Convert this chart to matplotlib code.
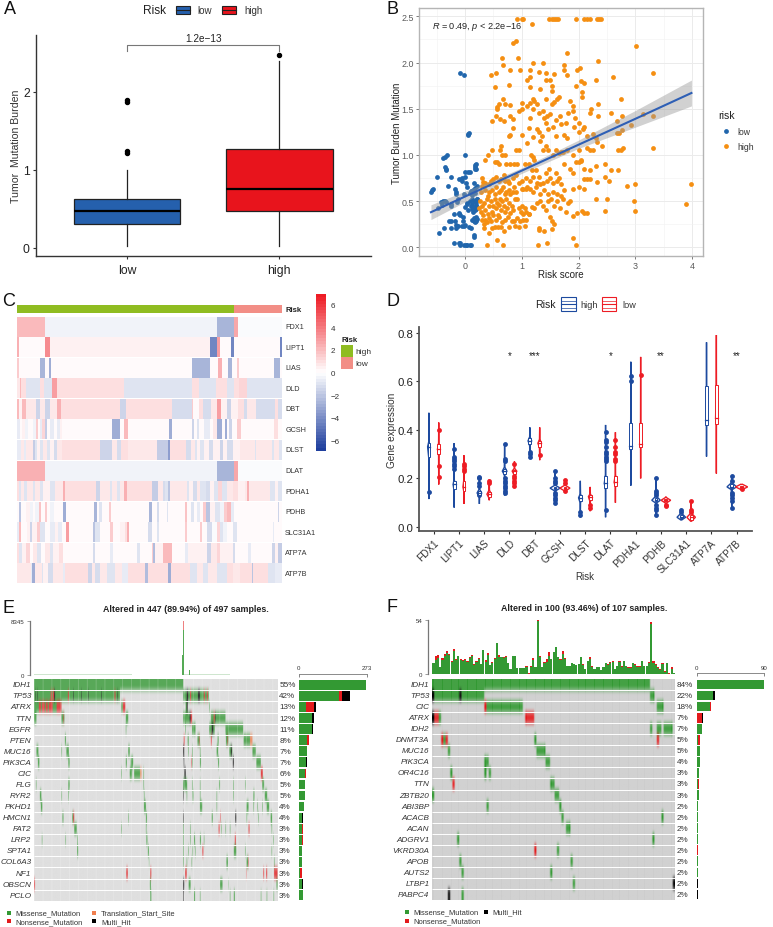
import numpy as np
import matplotlib
matplotlib.use('Agg')
import matplotlib.pyplot as plt
from matplotlib.colors import LinearSegmentedColormap, Normalize, to_rgb
from matplotlib.patches import Rectangle, Polygon

plt.rcParams['font.family'] = ['Liberation Sans', 'DejaVu Sans']
plt.rcParams['mathtext.fontset'] = 'custom'
plt.rcParams['mathtext.it'] = 'Liberation Sans:italic'
plt.rcParams['mathtext.rm'] = 'Liberation Sans'

W, H = 773, 928

# ---- A: boxplot
a_labels = ['low', 'high']
a_q1 = [0.31, 0.474]
a_med = [0.474, 0.76]
a_q3 = [0.628, 1.265]
a_whislo = [0.02, 0.02]
a_whishi = [1.0, 2.4]
a_fliers = [[1.22, 1.24, 1.87, 1.9], [2.47]]
a_colors = ['#2560ad', '#e8141c']

# ---- B: scatter
low_points = [(-.6,.6),(-.58,.62),(-.57,.63),(-.5,.76),(-.47,.42),(-.45,.16),(-.42,.49),(-.4,.46),(-.38,.5),(-.37,.21),
 (-.35,.5),(-.33,.49),(-.38,.97),(-.36,.98),(-.31,1.0),(-.36,.87),(-.34,.85),(-.33,.84),(-.3,.66),(-.28,.29),(-.25,.29),
 (-.25,.45),(-.24,.47),(-.24,.76),(-.24,.21),(-.2,.05),(-.2,.36),(-.18,.29),(-.17,.63),(-.16,.6),(-.16,.58),(-.16,.24),
 (-.15,.21),(-.14,.49),(-.13,.52),(-.12,.23),(-.11,.36),(-.1,.37),(-.1,.05),(-.1,.74),(-.09,.35),(-.09,.03),(-.08,.05),
 (-.06,.75),(-.05,.72),(-.05,.23),(-.04,.33),(-.03,.29),(-.02,.03),(-.02,.58),(-.01,.23),(0,1.0),(0,.82),(0,.76),(0,.44),
 (0,.24),(.01,.03),(.02,.7),(.03,.03),(.03,.65),(.04,.48),(.04,.47),(.05,1.21),(.06,1.23),(.07,1.24),(.06,.82),(.06,.4),
 (.07,.22),(.08,.03),(.08,.5),(.09,.82),(.09,.59),(.1,.03),(.1,.45),(.1,.21),(.11,.61),(.12,.57),(.12,.41),(.12,.47),
 (.13,.52),(.14,.62),(.15,.7),(.15,.43),(.15,.32),(.15,.28),(.15,.13),(.16,.11),(.16,.5),(.17,.59),(.17,.44),(.17,.87),
 (.18,.85),(.18,.89),(.18,.64),(.18,.4),(.19,.33),(.19,.28),(.2,.9),(.2,.85),(.2,.46),(.2,.49),(.21,.52),(.21,.44),
 (.22,.31),(.22,.66),(.19,.43),(.16,.4),(.13,.3),(-.09,1.89),(-.01,1.86),(.18,.27),(.22,.52),(.14,.38),(.2,.41)]
high_points = [(.92,2.47),(1.0,2.47),(1.02,2.47),(1.48,2.47),(1.53,2.47),(1.57,2.47),(1.6,2.47),(1.63,2.47),(1.95,2.47),
 (2.1,2.47),(2.15,2.47),(2.2,2.47),(2.33,2.47),(2.37,2.47),(2.4,2.47),(1.18,2.42),(.9,2.23),(.85,2.21),(3.02,2.18),
 (1.8,2.1),(.66,2.05),(.93,2.05),(2.35,2.02),(1.37,2.0),(1.2,2.0),(.67,1.97),(1.75,1.97),(1.97,1.92),(2.03,1.94),
 (1.75,1.92),(.8,1.92),(.97,1.92),(1.15,1.92),(1.3,1.9),(1.42,1.89),(.54,1.89),(3.32,1.89),(1.57,1.88),(.45,1.87),
 (1.8,1.87),(2.6,1.84),(1.15,1.84),(1.1,1.81),(2.3,1.81),(1.43,1.81),(1.5,1.81),(2.05,1.8),(2.1,1.78),(1.53,1.75),
 (.77,1.76),(.52,1.73),(1.15,1.74),(1.32,1.71),(1.95,1.75),(2.07,1.68),(1.54,1.69),(2.07,1.63),(1.65,1.63),(1.62,1.6),
 (.67,1.6),(1.2,1.6),(1.22,1.58),(1.43,1.6),(1.85,1.58),(2.75,1.6),(.57,1.52),(.6,1.55),(.57,1.5),(.7,1.55),(.8,1.54),
 (1.0,1.56),(1.1,1.53),(1.15,1.56),(1.27,1.55),(1.53,1.55),(1.57,1.57),(1.9,1.53),(2.35,1.55),(.55,1.42),(.47,1.37),
 (.62,1.39),(.69,1.37),(.8,1.42),(.84,1.39),(.95,1.47),(1.0,1.5),(1.15,1.4),(1.2,1.5),(1.3,1.45),(1.37,1.48),(1.4,1.4),
 (1.45,1.42),(1.5,1.44),(1.6,1.38),(1.68,1.42),(1.78,1.35),(1.82,1.45),(1.9,1.48),(1.93,1.4),(2.0,1.35),(2.2,1.45),
 (2.22,1.5),(2.34,1.42),(2.58,1.45),(2.68,1.37),(2.76,1.42),(3.14,1.44),(3.32,1.42),(.85,1.29),(.8,1.22),(.78,1.2),
 (1.0,1.21),(1.13,1.29),(1.2,1.19),(1.27,1.28),(1.3,1.25),(1.35,1.2),(1.42,1.35),(1.47,1.28),(1.55,1.3),(1.6,1.2),
 (1.7,1.33),(1.75,1.22),(1.8,1.18),(1.92,1.3),(2.0,1.25),(2.08,1.28),(2.1,1.3),(2.15,1.2),(2.25,1.23),(2.3,1.18),
 (2.33,1.14),(2.68,1.24),(2.72,1.24),(2.77,1.27),(2.93,1.32),(.63,1.1),(.62,1.05),(.47,1.05),(.66,1.0),(.4,1.0),
 (.7,1.0),(.9,1.05),(.95,1.05),(1.1,1.13),(1.17,1.0),(1.19,.98),(1.22,.95),(1.33,1.15),(1.38,1.05),(1.42,1.1),(1.47,1.05),
 (1.55,1.0),(1.6,1.05),(1.65,1.02),(1.7,1.03),(1.73,1.03),(1.8,1.05),(1.9,1.0),(2.0,1.05),(2.05,.95),(2.15,1.08),(2.2,1.05),
 (2.25,1.05),(2.42,1.1),(2.7,1.05),(2.75,1.05),(2.78,1.08),(3.32,1.08),(.35,.95),(.52,.92),(.57,.92),(.6,.9),(.72,.9),
 (.8,.9),(.87,.9),(.92,.9),(1.05,.9),(1.12,.9),(1.18,.84),(1.25,.84),(1.3,.76),(1.42,.8),(1.48,.85),(1.6,.8),(1.65,.75),
 (1.75,.9),(1.85,.85),(1.9,.8),(1.95,.92),(2.0,.92),(2.05,.93),(2.1,.85),(2.2,.84),(2.3,.88),(2.47,.9),(2.58,.84),(2.7,.84),
 (2.1,.74),(2.15,.74),(2.2,.74),(2.32,.71),(2.47,.76),(2.53,.72),(2.85,.66),(3.0,.68),(3.99,.68),(2.0,.65),(1.9,.63),
 (2.1,.63),(2.31,.52),(2.5,.52),(2.97,.5),(3.89,.47),(2.47,.39),(3.0,.39),(.3,.75),(.32,.71),(.35,.7),(.42,.68),(.45,.72),
 (.5,.74),(.55,.76),(.6,.72),(.63,.74),(.68,.78),(.7,.72),(.75,.72),(.78,.7),(.85,.75),(.9,.78),(.95,.7),(1.0,.72),(1.08,.75),
 (1.15,.72),(1.2,.76),(1.27,.7),(1.32,.68),(1.38,.7),(1.45,.72),(1.5,.75),(1.55,.7),(1.62,.72),(1.7,.68),(.28,.6),(.3,.66),
 (.35,.62),(.4,.55),(.43,.6),(.48,.62),(.52,.58),(.55,.65),(.6,.6),(.63,.62),(.67,.65),(.7,.58),(.73,.6),(.77,.62),(.8,.58),
 (.84,.6),(.87,.65),(.9,.6),(1.0,.63),(1.03,.63),(1.07,.63),(1.1,.65),(1.15,.63),(1.2,.6),(1.25,.65),(1.33,.58),(1.4,.62),
 (1.47,.58),(1.55,.6),(1.62,.58),(1.7,.55),(1.75,.62),(1.85,.5),(.25,.42),(.27,.5),(.28,.38),(.3,.45),(.32,.35),(.34,.48),
 (.36,.4),(.38,.52),(.4,.36),(.42,.45),(.45,.5),(.47,.38),(.5,.45),(.52,.52),(.54,.42),(.56,.48),(.58,.35),(.6,.46),(.62,.52),
 (.64,.4),(.66,.5),(.68,.45),(.7,.38),(.72,.52),(.74,.42),(.77,.48),(.8,.37),(.83,.45),(.85,.4),(.88,.52),(.92,.52),(.95,.42),
 (.98,.38),(1.0,.45),(1.02,.36),(1.05,.42),(1.08,.38),(1.12,.36),(1.18,.44),(1.22,.42),(1.27,.48),(1.33,.5),(1.38,.45),
 (1.42,.4),(1.47,.5),(1.52,.52),(1.57,.45),(1.62,.5),(1.67,.42),(1.72,.52),(1.78,.38),(1.82,.48),(.3,.3),(.33,.25),(.35,.3),
 (.38,.27),(.42,.32),(.46,.28),(.5,.35),(.55,.3),(.6,.33),(.65,.27),(.7,.3),(.75,.33),(.82,.29),(.87,.29),(.92,.32),(.97,.28),
 (1.03,.3),(1.07,.3),(1.13,.36),(1.5,.33),(1.53,.29),(1.57,.25),(1.9,.34),(1.97,.37),(2.07,.39),(2.1,.37),(2.15,.37),(.33,.21),
 (.42,.16),(.47,.21),(.52,.22),(.58,.22),(.63,.22),(.68,.18),(.78,.22),(.88,.23),(.95,.22),(1.05,.23),(1.3,.19),(1.31,.21),
 (1.4,.18),(1.54,.2),(.38,.03),(.57,.08),(.67,.03),(1.28,.03),(1.44,.05),(1.91,.1),(1.96,.03)]
b_fit_x = [-0.6, 0.5, 1.0, 2.0, 3.0, 3.99]
b_fit_y = [0.38, 0.69, 0.83, 1.11, 1.39, 1.67]
b_band_lo = [0.30, 0.65, 0.80, 1.07, 1.30, 1.53]
b_band_hi = [0.46, 0.73, 0.86, 1.16, 1.48, 1.81]

# ---- C: heatmap, each row = (end of segment, value), x axis runs 52..846
c_genes = ['FDX1', 'LIPT1', 'LIAS', 'DLD', 'DBT', 'GCSH', 'DLST', 'DLAT', 'PDHA1', 'PDHB', 'SLC31A1', 'ATP7A', 'ATP7B']
fdx1 = [(135,2.2),(650,-.3),(703,-2.6),(713,2.6),(846,-.25)]
lipt1 = [(58,2.5),(135,.15),(151,3.5),(630,.3),(650,-4.2),(660,3),(694,.1),(703,-4.2),(840,.2),(846,-4.2)]
lias = [(58,1.5),(120,.2),(135,-2.6),(148,.1),(154,-3),(575,.15),(630,-2.6),(655,.1),(665,2.5),(685,.1),(695,-2.6),(712,.2),(716,1.5),(822,.2),(840,-2.6),(846,.2)]
dld = [(60,.8),(64,2),(78,1),(120,-1),(133,.9),(155,-.9),(172,3),(372,1.1),(575,-.9),(597,1),(647,-.9),(680,1.1),(703,-.9),(718,1),(742,1.3),(846,-1)]
dbt = [(56,2),(66,.3),(78,2),(108,.8),(120,-1.6),(135,.7),(150,-1.6),(170,.6),(183,2.5),(360,1),(378,-1.5),(517,.9),(575,-1.2),(580,1.5),(597,.2),(608,1),(632,-1.3),(650,.6),(663,3),(680,.3),(694,-1.4),(715,.5),(731,1),(742,-1.2),(767,.6),(825,-1.2),(835,.9),(846,-1.2)]
gcsh = [(60,-.8),(66,.1),(76,.3),(84,-.5),(100,.1),(108,-.5),(114,1.6),(120,.1),(125,-.6),(135,1.2),(140,-1.7),(150,.1),(162,-.8),(170,.1),(180,-.8),(186,.3),(335,.1),(360,-2.8),(372,.1),(383,2),(508,.1),(517,-3),(575,.1),(582,-1.4),(590,.2),(597,-1),(612,.1),(630,-.7),(640,.2),(652,.8),(665,-3),(675,.1),(680,-3),(686,.1),(695,-1.6),(712,.1),(722,1.6),(822,.1),(833,1),(846,.1)]
dlst = [(62,-.8),(72,.6),(78,-.8),(98,.7),(104,-1.8),(112,-1),(120,.5),(130,-1),(140,.7),(150,-1),(162,.5),(172,-1.2),(187,.6),(300,1),(336,-1.6),(352,.8),(362,-1.2),(385,1),(472,.8),(505,-1.8),(510,-3.5),(558,.9),(572,-1.3),(584,.6),(592,-1),(600,.5),(612,-1),(628,.5),(640,-1.2),(660,.5),(668,-1.5),(680,.5),(700,-1.2),(720,.4),(740,.6),(765,.8),(768,-1),(815,.8),(822,-1),(838,.6),(846,-1)]
dlat = [(135,2.4),(650,-.3),(703,-2.6),(713,2.6),(846,-.25)]
pdha1 = [(57,.9),(63,-1),(73,.7),(81,-1),(100,.6),(106,-1),(120,.6),(128,-.9),(150,.5),(165,-.9),(190,.7),(195,2.5),(288,1),(300,-1.6),(330,.8),(336,-1),(350,.6),(360,-1),(372,.6),(382,2.5),(455,.9),(475,-1.8),(490,.6),(495,-1.2),(505,-1),(510,-2),(560,.8),(568,-1),(578,.5),(590,-1.2),(600,.6),(618,-1),(630,-1.3),(642,.5),(655,-1),(666,1.2),(680,-1),(700,.8),(715,1.1),(735,.4),(741,.8),(746,2.5),(810,.8),(826,-1),(834,.5),(846,-1)]
pdhb = [(56,.2),(64,-2),(78,.1),(90,.3),(100,-.3),(105,.1),(118,-.4),(124,1.8),(135,.1),(141,1.6),(150,.1),(162,-.4),(170,.1),(190,.2),(198,-3),(282,.15),(290,-2.6),(298,.1),(305,-1),(328,.1),(334,1.5),(448,.1),(456,-2.6),(470,.1),(476,-1.2),(500,.1),(505,-.9),(555,.1),(560,1.7),(572,.1),(582,-1),(592,.1),(600,-.8),(610,.1),(618,1.5),(630,-2),(645,.3),(660,-1),(672,-.3),(682,1.5),(694,2),(703,-.8),(835,.1),(838,-1.5),(846,.1)]
slc31a1 = [(58,-.8),(62,2),(80,.1),(90,.5),(95,-1.5),(110,.3),(120,1.5),(135,-1),(150,.2),(165,-.8),(175,.3),(185,-.8),(197,.2),(207,3),(278,.1),(286,-2.2),(300,-1),(330,.1),(338,1.5),(360,.1),(376,.3),(380,1),(388,2.5),(445,.1),(455,-1.2),(470,.1),(478,-1),(555,.1),(560,1.4),(600,.2),(606,1.5),(620,.1),(635,-1.2),(650,-.2),(660,1.2),(670,-1),(680,-.3),(700,.2),(712,-1),(818,.1),(822,-.7),(846,.1)]
atp7a = [(58,1),(66,-1),(78,.3),(90,1.3),(100,.2),(112,.6),(122,-1),(135,.2),(150,.8),(160,-1),(178,.5),(190,.9),(280,.1),(286,-1.3),(330,.1),(340,-.8),(390,.1),(410,.2),(420,-1),(455,.1),(460,1.5),(465,-2.3),(490,.3),(515,2),(555,.2),(565,-.8),(620,.3),(632,-1.5),(650,.6),(660,1.2),(680,.5),(700,.3),(705,-1.2),(745,.2),(752,-.8),(765,.2),(815,.1),(825,-1.5),(835,.5),(846,-1.7)]
atp7b = [(70,.8),(92,.6),(95,-.8),(105,-3),(125,.7),(130,-1),(145,.4),(160,-1.2),(190,.6),(195,-.8),(265,1.1),(275,-1.4),(285,.8),(300,-1.2),(320,.6),(345,-1),(365,.7),(385,-.8),(435,1),(443,-2.5),(470,.9),(505,1),(512,-3),(570,.9),(590,-.9),(610,.7),(625,-1),(650,.8),(680,-1),(700,.9),(720,.8),(755,1),(760,-2),(805,1.1),(825,-1),(846,-.8)]
c_rows = [fdx1, lipt1, lias, dld, dbt, gcsh, dlst, dlat, pdha1, pdhb, slc31a1, atp7a, atp7b]
c_risk_high = (52, 703)
c_risk_low = (703, 846)

# ---- D: violins
d_genes = c_genes
d_high_lo = [.115,.08,.095,.13,.28,.095,.04,.04,.17,.05,.03,.29,.08]
d_high_hi = [.47,.345,.21,.34,.41,.23,.19,.42,.68,.2,.075,.76,.21]
d_high_q1 = [.29,.155,.13,.22,.34,.155,.105,.16,.32,.105,.035,.42,.16]
d_high_med = [.33,.175,.14,.23,.355,.16,.12,.18,.335,.11,.04,.44,.165]
d_high_q3 = [.345,.19,.15,.24,.365,.165,.13,.21,.43,.12,.05,.58,.175]
d_high_wid = [.05,.04,.09,.09,.07,.2,.07,.05,.04,.17,.17,.03,.19]
d_high_dots = [[.145],[.24,.25,.26,.27,.28,.29,.32],[.13,.14,.17,.18,.2,.205],[.14,.15,.16,.17,.18,.19,.2,.27,.28,.34],
 [.29,.3,.31],[.1,.11,.12,.13,.14,.18,.19,.2,.23],[.05,.06],[.07,.27,.28,.29,.3,.31,.33,.35,.36,.39],[.6,.62],
 [.05,.07,.08,.09,.13,.14,.15,.2],[.06,.07],[],[.08,.105,.12,.13,.14,.19,.21]]
d_low_lo = [.175,.095,.11,.165,.275,.145,.065,.1,.2,.08,.025,.22,.155]
d_low_hi = [.43,.295,.195,.27,.41,.195,.165,.39,.7,.125,.105,.79,.175]
d_low_q1 = [.3,.15,.125,.22,.33,.155,.11,.17,.33,.105,.03,.425,.16]
d_low_med = [.32,.165,.135,.23,.345,.16,.125,.185,.34,.11,.04,.45,.165]
d_low_q3 = [.34,.19,.145,.235,.355,.165,.13,.21,.43,.115,.05,.585,.17]
d_low_wid = [.05,.04,.09,.09,.07,.2,.07,.05,.04,.19,.17,.03,.24]
d_low_dots = [[.205,.25,.4],[.23,.24,.25,.26],[.18,.19],[.17,.18,.19,.2,.21,.26],[.295],[.15,.18,.195],[.08,.09],
 [.27,.28,.3,.31,.33,.36],[.625],[.085,.09],[.06,.07,.105],[],[.155]]
d_stars = {3: '*', 4: '***', 7: '*', 9: '**', 12: '**'}

# ---- E: oncoplot, 497 samples, segments are (start, end, kind)
e_genes = ['IDH1','TP53','ATRX','TTN','EGFR','PTEN','MUC16','PIK3CA','CIC','FLG','RYR2','PKHD1','HMCN1','FAT2','LRP2','SPTA1','COL6A3','NF1','OBSCN','PCLO']
e_pct = [55,42,13,12,11,8,7,7,6,5,5,4,4,3,3,3,3,3,3,3]
e_idh1 = [(0,304,'m')]
e_tp53 = [(0,175,'m'),(3,4,'h'),(7,8,'h'),(34,36,'n'),(38,41,'n'),(41,43,'h'),(69,71,'n'),(80,81,'h'),(96,97,'h'),(110,111,'h'),(137,138,'h'),(164,166,'n'),(170,171,'h'),(304,356,'m'),(311,314,'h'),(318,320,'n'),(334,338,'h'),(346,348,'n'),(352,354,'n')]
e_atrx = [(0,10,'m'),(10,38,'n'),(14,16,'m'),(22,24,'m'),(28,30,'m'),(38,46,'m'),(46,56,'n'),(178,181,'m'),(181,186,'n'),(309,311,'m'),(311,313,'h'),(357,358,'m')]
e_ttn = [(0,5,'m'),(56,62,'m'),(60,61,'n'),(187,192,'m'),(304,317,'m'),(317,319,'h'),(319,322,'n'),(360,390,'m'),(366,368,'n'),(369,370,'h')]
e_egfr = [(187,188,'m'),(308,309,'m'),(322,329,'m'),(357,368,'m'),(362,365,'h'),(390,426,'m')]
e_pten = [(63,65,'m'),(305,307,'n'),(313,315,'m'),(333,338,'m'),(336,337,'n'),(360,362,'n'),(374,376,'m'),(391,396,'m'),(394,395,'n'),(427,440,'m'),(440,445,'t')]
e_muc16 = [(5,9,'m'),(56,57,'m'),(66,71,'m'),(192,195,'m'),(304,306,'h'),(314,315,'m'),(322,323,'m'),(338,339,'m'),(372,375,'m'),(398,404,'m'),(401,403,'h'),(445,452,'m')]
e_pik3ca = [(8,11,'m'),(70,73,'m'),(187,189,'m'),(197,202,'m'),(305,306,'h'),(320,321,'n'),(322,323,'m'),(338,340,'m'),(375,377,'m'),(405,407,'h'),(453,462,'m')]
e_cic = [(178,179,'m'),(195,200,'m'),(204,216,'m'),(216,219,'t'),(223,224,'m'),(306,309,'h'),(462,466,'n')]
e_flg = [(4,5,'m'),(70,73,'m'),(223,224,'m'),(304,312,'m'),(322,323,'m'),(338,339,'m'),(377,379,'m'),(406,407,'m'),(430,431,'m'),(465,469,'m')]
e_ryr2 = [(12,15,'m'),(56,57,'m'),(70,71,'m'),(224,225,'m'),(304,305,'h'),(311,312,'m'),(323,325,'m'),(338,339,'m'),(372,373,'m'),(406,407,'m'),(447,449,'m'),(470,475,'m')]
e_pkhd1 = [(14,17,'m'),(224,228,'m'),(338,343,'m'),(372,373,'m'),(433,437,'m'),(447,448,'m'),(455,456,'m'),(465,466,'m'),(474,479,'m')]
e_hmcn1 = [(58,60,'m'),(78,81,'m'),(80,82,'n'),(192,193,'m'),(228,230,'m'),(304,305,'h'),(362,364,'m'),(379,380,'n'),(410,412,'h'),(433,434,'m'),(457,458,'m'),(482,485,'m')]
e_fat2 = [(82,87,'m'),(178,179,'m'),(228,229,'m'),(304,305,'m'),(318,319,'m'),(376,378,'n'),(381,382,'m'),(390,391,'m'),(399,400,'m'),(437,439,'n'),(484,485,'m')]
e_lrp2 = [(16,17,'m'),(64,65,'m'),(88,89,'m'),(229,231,'m'),(304,305,'m'),(318,319,'m'),(326,328,'m'),(338,340,'m'),(346,347,'m'),(409,411,'n'),(487,488,'m')]
e_spta1 = [(88,90,'m'),(232,234,'m'),(304,305,'m'),(314,315,'m'),(323,324,'m'),(328,329,'m'),(343,345,'n'),(407,412,'m'),(430,431,'m'),(484,485,'m')]
e_col6a3 = [(234,235,'m'),(304,305,'m'),(311,312,'m'),(321,322,'m'),(392,395,'m'),(433,437,'m'),(436,437,'n'),(489,490,'m')]
e_nf1 = [(188,191,'n'),(237,239,'n'),(308,311,'n'),(432,433,'n'),(467,469,'n'),(473,475,'n'),(489,496,'n')]
e_obscn = [(0,2,'n'),(236,238,'m'),(304,306,'h'),(315,319,'m'),(379,384,'m'),(396,397,'m'),(494,496,'m')]
e_pclo = [(237,239,'m'),(304,305,'h'),(326,328,'m'),(338,339,'m'),(399,400,'m'),(407,409,'m'),(462,463,'m'),(474,475,'m'),(488,489,'m')]
e_rows = [e_idh1,e_tp53,e_atrx,e_ttn,e_egfr,e_pten,e_muc16,e_pik3ca,e_cic,e_flg,e_ryr2,e_pkhd1,e_hmcn1,e_fat2,e_lrp2,e_spta1,e_col6a3,e_nf1,e_obscn,e_pclo]
e_right_m = [272,162,29,52,55,32,32,29,27,25,25,20,14,14,14,15,13,4,14,16]
e_right_n = [0,13,32,3,0,9,0,2,1,0,0,0,1,2,2,0,2,9,0,0]
e_right_h = [0,31,7,8,4,0,3,2,3,0,0,0,2,1,1,0,0,2,3,0]
e_tmb_edges = [0,100,200,304,320,340,400,497]
e_tmb_base = [90,80,70,110,150,90,70]
e_tmb_samples = [303,304,305,316,317]
e_tmb_miss = [3000,6900,1200,700,700]
e_tmb_nons = [0,1445,0,0,0]

# ---- F: oncoplot, 107 samples
f_genes = ['IDH1','TP53','CIC','ATRX','IDH2','DNMT3A','MUC16','PIK3CA','OR4C16','TTN','ZBTB20','ABI3BP','ACACB','ACAN','ADGRV1','VKRD30A','APOB','AUTS2','LTBP1','PABPC4']
f_pct = [84,22,18,7,7,5,5,4,3,3,3,2,2,2,2,2,2,2,2,2]
f_rows = [[(0,96,'m')],
 [(0,1,'h'),(1,12,'m'),(12,13,'h'),(13,23,'m'),(96,98,'m')],
 [(23,24,'n'),(24,40,'m'),(99,102,'m')],
 [(0,1,'h'),(1,3,'n'),(3,4,'m'),(41,45,'n')],
 [(96,97,'m'),(99,101,'m'),(102,106,'m')],
 [(4,5,'n'),(5,6,'m'),(6,7,'n'),(45,46,'m'),(99,100,'n')],
 [(7,8,'m'),(46,50,'m')],
 [(23,25,'m'),(50,52,'m')],
 [(8,9,'m'),(23,24,'m'),(25,26,'m')],
 [(9,10,'n'),(52,54,'m')],
 [(0,1,'m'),(54,56,'m')],
 [(24,25,'m'),(56,57,'m')],
 [(57,58,'m'),(101,102,'m')],
 [(59,61,'m')],
 [(11,12,'m'),(97,98,'m')],
 [(45,46,'n'),(55,56,'m')],
 [(12,13,'m'),(61,62,'m')],
 [(13,14,'m'),(52,53,'m')],
 [(62,63,'m'),(106,107,'h')],
 [(7,8,'h'),(13,14,'m')]]
f_right_m = [90,22,18,1,7,2,5,4,3,2,3,2,2,2,2,1,2,2,1,1]
f_right_n = [0,0,1,6,0,3,0,0,0,1,0,0,0,0,0,1,0,0,0,0]
f_right_h = [0,2,0,1,0,0,0,0,0,0,0,0,0,0,0,0,0,0,1,1]
f_top_total = [11,18,19,7,16,20,23,20,13,25,15,18,15,14,15,13,17,19,10,13,16,10,24,14,21,9,12,16,31,19,
 17,17,18,11,5,18,18,6,6,6,6,8,1,8,16,7,54,18,7,12,15,22,15,22,27,17,15,23,16,8,
 8,11,10,9,10,17,10,5,13,17,8,5,7,7,4,7,11,10,12,13,5,8,13,8,13,8,7,7,11,10,
 8,8,13,8,8,12,52,13,10,7,5,11,3,11,1,7,1]
f_top_nons = [0,4,3,0,2,2,2,1,1,2,1,0,1,1,1,1,1,1,1,1,1,0,0,2,2,0,1,1,0,2,
 0,1,1,0,0,0,0,0,0,0,0,1,1,1,2,0,1,1,0,1,3,4,0,0,0,0,1,3,1,0,
 0,0,0,0,0,0,1,0,0,2,1,0,0,0,0,0,0,1,1,1,0,0,1,1,0,0,1,1,0,1,
 1,1,0,0,0,1,2,2,1,1,1,1,1,0,1,2,0]

GREEN = '#339933'
RED = '#e31a1c'
ORANGE = '#f07f4f'
kind_colors = {'m': GREEN, 'n': RED, 'h': '#000000', 't': ORANGE}

fig = plt.figure(figsize=(W / 100, H / 100), dpi=100)


def px_axes(l, t, r, b, **kw):
    return fig.add_axes([l / W, 1 - b / H, (r - l) / W, (b - t) / H], **kw)


# overlay in pixel coordinates for panel letters and hand drawn legends
ov = fig.add_axes([0, 0, 1, 1], zorder=10)
ov.set_xlim(0, W)
ov.set_ylim(H, 0)
ov.axis('off')

for letter, x, y in [('A', 4, 10), ('B', 387, 9), ('C', 2, 302), ('D', 386, 302), ('E', 2, 609), ('F', 387, 608)]:
    ov.text(x, y, letter, fontsize=13, ha='left', va='center', color='#111111')


def key_box(x0, y0, x1, y1, color, fill, lw=0.8):
    ov.add_patch(Rectangle((x0, y0), x1 - x0, y1 - y0, fc=fill, ec=color, lw=lw))
    ov.plot([x0, x1], [(y0 + y1) / 2] * 2, color=color, lw=lw)


# ---- panel A
ax = px_axes(36, 36, 371, 257)
for i in range(2):
    bx = ax.bxp([{'q1': a_q1[i], 'med': a_med[i], 'q3': a_q3[i], 'whislo': a_whislo[i], 'whishi': a_whishi[i], 'fliers': a_fliers[i]}],
                positions=[i], widths=0.7, patch_artist=True, showcaps=False,
                boxprops=dict(facecolor=a_colors[i], edgecolor='#222222', linewidth=0.9),
                medianprops=dict(color='black', linewidth=1.6),
                whiskerprops=dict(color='#222222', linewidth=0.9),
                flierprops=dict(marker='o', markerfacecolor='black', markeredgecolor='black', markersize=2.9))
ax.set_xlim(-0.6, 1.603)
ax.set_ylim(-0.103, 2.73)
ax.set_xticks([0, 1])
ax.set_xticklabels(a_labels, fontsize=8.8)
ax.set_yticks([0, 1, 2])
ax.tick_params(axis='y', labelsize=8.8, length=2.5, pad=2, color='#333333', labelcolor='#222222')
ax.tick_params(axis='x', length=2.5, pad=3, color='#333333', labelcolor='#222222')
ax.set_ylabel('Tumor  Mutation Burden', fontsize=7.6, labelpad=1.5, color='#333333')
for s in ['top', 'right']:
    ax.spines[s].set_visible(False)
for s in ['left', 'bottom']:
    ax.spines[s].set_linewidth(1.0)
    ax.spines[s].set_color('#333333')
ax.plot([0, 0, 1, 1], [2.53, 2.606, 2.606, 2.53], color='#777777', lw=0.8, clip_on=False)
ax.text(0.5, 2.63, '1.2e\u221213', ha='center', va='bottom', fontsize=7.2, color='#222222', clip_on=False)
ov.text(143, 11, 'Risk', fontsize=8.6, va='center', color='#222222')
key_box(176, 7, 190, 15, '#222222', a_colors[0])
ov.text(197.5, 11.5, 'low', fontsize=7, va='center', color='#333333')
key_box(222, 7, 236, 15, '#222222', a_colors[1])
ov.text(244, 11.5, 'high', fontsize=7, va='center', color='#333333')

# ---- panel B
ax = px_axes(419, 8.7, 703.3, 257)
lp = np.array(low_points)
hp = np.array(high_points)
ax.scatter(lp[:, 0], lp[:, 1], s=12, color='#2166ac', linewidths=0, zorder=3)
ax.scatter(hp[:, 0], hp[:, 1], s=12, color='#f58f12', linewidths=0, zorder=3)
ax.fill_between(b_fit_x, b_band_lo, b_band_hi, color='#999999', alpha=0.45, linewidth=0, zorder=4)
ax.plot(b_fit_x, b_fit_y, color='#2e5fb5', lw=1.5, zorder=5)
ax.set_xlim((419 - 465) / 56.75, (703.3 - 465) / 56.75)
ax.set_ylim(-(257 - 248.3) / 92.4, (248.3 - 8.7) / 92.4)
ax.set_xticks([0, 1, 2, 3, 4])
ax.set_xticks([-0.5, 0.5, 1.5, 2.5, 3.5], minor=True)
ax.set_yticks([0, 0.5, 1.0, 1.5, 2.0, 2.5])
ax.set_yticks([0.25, 0.75, 1.25, 1.75, 2.25], minor=True)
ax.set_yticklabels(['0.0', '0.5', '1.0', '1.5', '2.0', '2.5'])
ax.grid(True, which='major', color='#ebebeb', lw=0.7, zorder=0)
ax.grid(True, which='minor', color='#f2f2f2', lw=0.4, zorder=0)
ax.set_axisbelow(True)
ax.tick_params(which='major', labelsize=6.4, length=2, width=0.6, pad=1.5, color='#666666', labelcolor='#5a5a5a')
ax.tick_params(which='minor', length=0)
for s in ax.spines.values():
    s.set_color('#b5b5b5')
    s.set_linewidth(1.0)
ax.set_xlabel('Risk score', fontsize=7, labelpad=-0.5, color='#222222')
ax.set_ylabel('Tumor Burden Mutation', fontsize=7, labelpad=-0.5, color='#222222')
ax.text(-0.58, 2.39, r'$\mathit{R}$ = 0.49, $\mathit{p}$ < 2.2e$-$16', fontsize=6.6, va='center', color='#222222', zorder=6)
ov.text(718, 116, 'risk', fontsize=7.6, va='center', color='#222222')
ov.scatter([725.7], [132], s=12, color='#2166ac', linewidths=0)
ov.text(737.7, 132.5, 'low', fontsize=6.2, va='center', color='#333333')
ov.scatter([725.7], [147], s=12, color='#f58f12', linewidths=0)
ov.text(737.7, 147.5, 'high', fontsize=6.2, va='center', color='#333333')

# ---- panel C
cmap = LinearSegmentedColormap.from_list('hm', ['#1f3f9e', '#ffffff', '#ee1c25'], N=50)
norm = Normalize(-6.95, 6.95)
ax = px_axes(17.3, 317.3, 282, 584.7)
for i, row in enumerate(c_rows):
    edges = [52] + [seg[0] for seg in row]
    vals = np.array([[seg[1] for seg in row]])
    ax.pcolormesh(edges, [i + 0.015, i + 0.985], vals, cmap=cmap, norm=norm, linewidth=0, rasterized=True)
ax.set_xlim(52, 846)
ax.set_ylim(13, 0)
ax.axis('off')
for i, g in enumerate(c_genes):
    ax.text(1.012, 1 - (i + 0.5) / 13, g, transform=ax.transAxes, fontsize=5.2, va='center', color='#333333')
ax2 = px_axes(17.3, 306, 282, 314)
ax2.add_patch(Rectangle((c_risk_high[0], 0), c_risk_high[1] - c_risk_high[0], 1, fc='#8fbc21', lw=0))
ax2.add_patch(Rectangle((c_risk_low[0], 0), c_risk_low[1] - c_risk_low[0], 1, fc='#f28e86', lw=0))
ax2.set_xlim(52, 846)
ax2.set_ylim(0, 1)
ax2.axis('off')
ov.text(285.7, 310.5, 'Risk', fontsize=5.6, fontweight='bold', va='center', color='#222222')
cax = px_axes(315.7, 295.3, 326.3, 451.7)
cb_levels = np.linspace(-6.95, 6.95, 51)
cax.pcolormesh([0, 1], cb_levels, ((cb_levels[:-1] + cb_levels[1:]) / 2)[:, None], cmap=cmap, norm=norm)
cax.set_xticks([])
cax.set_yticks([-6, -4, -2, 0, 2, 4, 6])
cax.set_yticklabels(['\u22126', '\u22124', '\u22122', '0', '2', '4', '6'])
cax.yaxis.tick_right()
cax.tick_params(axis='y', length=0, labelsize=5.8, pad=3, labelcolor='#333333')
for s in cax.spines.values():
    s.set_visible(False)
ov.text(341, 340.5, 'Risk', fontsize=5.6, fontweight='bold', va='center', color='#222222')
ov.add_patch(Rectangle((341, 346.3), 11.7, 12, fc='#8fbc21', lw=0))
ov.add_patch(Rectangle((341, 358.3), 11.7, 12, fc='#f28e86', lw=0))
ov.text(355, 352.5, 'high', fontsize=6, va='center', color='#333333')
ov.text(355, 364.5, 'low', fontsize=6, va='center', color='#333333')

# ---- panel D
ax = px_axes(419.3, 328, 751.7, 532)
HIGH_C, LOW_C = '#1d4a9f', '#ed1c24'


def draw_group(x, lo, hi, q1, med, q3, wid, dots, color):
    shape = [(x, lo), (x + 0.12 * wid, q1 - 0.006), (x + wid, med), (x + 0.12 * wid, q3 + 0.006), (x, hi),
             (x - 0.12 * wid, q3 + 0.006), (x - wid, med), (x - 0.12 * wid, q1 - 0.006)]
    ax.add_patch(Polygon(shape, closed=True, fc=color if wid < 0.08 else 'white', ec=color, lw=1.0, zorder=2))
    ax.plot([x] * len(dots), dots, 'o', color=color, ms=3.5, mew=0, zorder=3)
    ax.add_patch(Rectangle((x - 0.055, q1), 0.11, q3 - q1, fc='white', ec=color, lw=0.7, zorder=4))
    ax.plot([x - 0.055, x + 0.055], [med, med], color=color, lw=0.9, zorder=5)


for i in range(len(d_genes)):
    draw_group(i + 1 - 0.19, d_high_lo[i], d_high_hi[i], d_high_q1[i], d_high_med[i], d_high_q3[i], d_high_wid[i], d_high_dots[i], HIGH_C)
    draw_group(i + 1 + 0.2, d_low_lo[i], d_low_hi[i], d_low_q1[i], d_low_med[i], d_low_q3[i], d_low_wid[i], d_low_dots[i], LOW_C)
for i, s in d_stars.items():
    ax.text(i + 1, 0.707, s, ha='center', va='center', fontsize=7, color='#222222')
ax.set_xlim(0.43, 13.6)
ax.set_ylim(-(532 - 528) / 243, (528 - 328) / 243)
ax.set_xticks(range(1, 14))
ax.set_xticklabels(d_genes, rotation=45, ha='right', rotation_mode='anchor', fontsize=7.2, color='#333333')
ax.set_yticks([0, 0.2, 0.4, 0.6, 0.8])
ax.set_yticklabels(['0.0', '0.2', '0.4', '0.6', '0.8'])
ax.tick_params(axis='y', labelsize=8.2, length=2.5, pad=2, color='#333333', labelcolor='#222222')
ax.tick_params(axis='x', length=2.5, pad=2, color='#333333')
for s in ['top', 'right']:
    ax.spines[s].set_visible(False)
for s in ['left', 'bottom']:
    ax.spines[s].set_linewidth(1.3)
    ax.spines[s].set_color('#555555')
ax.set_ylabel('Gene expression', fontsize=7.2, labelpad=0, color='#333333')
ov.text(585, 577, 'Risk', fontsize=7, ha='center', va='center', color='#333333')
ov.text(535, 305, 'Risk', fontsize=7.6, va='center', color='#222222')
for x0, c, t, tx in [(561, HIGH_C, 'high', 580.7), (601.7, LOW_C, 'low', 622.7)]:
    ov.add_patch(Rectangle((x0, 298), 14.5, 14, fc='white', ec=c, lw=0.8))
    ov.plot([x0, x0 + 14.5], [305, 305], color=c, lw=0.8)
    ov.plot([x0, x0 + 14.5], [301.5, 301.5], color=c, lw=0.5)
    ov.plot([x0, x0 + 14.5], [308.5, 308.5], color=c, lw=0.5)
    ov.text(tx, 305.5, t, fontsize=6.6, va='center', color='#333333')


# ---- panels E and F
def draw_matrix(ax, rows, n, bg, stripe_every, stripe_mix, pale=0.0):
    img = np.ones((len(rows), n, 3)) * np.array(to_rgb(bg))
    for i, segs in enumerate(rows):
        for start, end, kind in segs:
            img[i, start:end] = np.array(to_rgb(kind_colors[kind])) * (1 - pale) + np.array(to_rgb(bg)) * pale
    img[:, ::stripe_every] = img[:, ::stripe_every] * (1 - stripe_mix) + stripe_mix
    ax.imshow(img, aspect='auto', interpolation='antialiased', extent=(0, n, len(rows), 0))
    ax.hlines(np.arange(1, len(rows)), 0, n, color='white', lw=0.7)
    ax.set_xlim(0, n)
    ax.set_ylim(len(rows), 0)
    ax.axis('off')


def draw_right(ax, m, nons, h, vmax):
    y = np.arange(len(m)) + 0.5
    m, nons, h = np.array(m), np.array(nons), np.array(h)
    ax.barh(y, m, height=0.88, color=GREEN, lw=0)
    ax.barh(y, nons, left=m, height=0.88, color=RED, lw=0)
    ax.barh(y, h, left=m + nons, height=0.88, color='black', lw=0)
    ax.set_xlim(0, vmax)
    ax.set_ylim(len(m), 0)
    ax.set_yticks([])
    ax.set_xticks([0, vmax])
    ax.xaxis.tick_top()
    ax.tick_params(axis='x', direction='in', length=2.2, width=0.5, labelsize=4.4, pad=2.5, color='#555555', labelcolor='#333333')
    for s in ['left', 'right', 'bottom']:
        ax.spines[s].set_visible(False)
    ax.spines['top'].set_position(('outward', 4))
    ax.spines['top'].set_linewidth(0.6)
    ax.spines['top'].set_color('#777777')


def draw_labels(ax, genes, pct, n):
    for i, (g, p) in enumerate(zip(genes, pct)):
        ax.text(-0.012, 1 - (i + 0.5) / len(genes), g, transform=ax.transAxes, ha='right', va='center',
                fontsize=5.9, style='italic', color='#333333')
        ax.text(1.006, 1 - (i + 0.5) / len(genes), f'{p}%', transform=ax.transAxes, ha='left', va='center',
                fontsize=5.9, color='#333333')


def style_top(ax, vmax):
    for s in ['top', 'right', 'bottom']:
        ax.spines[s].set_visible(False)
    ax.spines['left'].set_position(('outward', 3))
    ax.spines['left'].set_linewidth(0.9)
    ax.spines['left'].set_color('#777777')
    ax.set_xticks([])
    ax.set_yticks([0, vmax])
    ax.set_ylim(0, vmax)
    ax.tick_params(axis='y', length=2.5, width=0.5, labelsize=4.4, pad=1.5, color='#777777', labelcolor='#333333')


# E
ax = px_axes(34.3, 680.3, 277.7, 901.7)
draw_matrix(ax, e_rows, 497, '#dfdfdf', 18, 0.35, pale=0.22)
draw_labels(ax, e_genes, e_pct, 497)
ax = px_axes(34.3, 621.7, 277.7, 676)
ax.stairs(e_tmb_base, e_tmb_edges, fill=True, color='#cfe6cf', lw=0)
ax.bar(e_tmb_samples, e_tmb_miss, width=1.4, color='#55aa55', lw=0)
ax.bar(e_tmb_samples, e_tmb_nons, bottom=e_tmb_miss, width=1.4, color='#ee8080', lw=0)
ax.set_xlim(0, 497)
style_top(ax, 8345)
ax = px_axes(298.7, 680.3, 366.7, 901.7)
draw_right(ax, e_right_m, e_right_n, e_right_h, 273)
ov.text(186, 610, 'Altered in 447 (89.94%) of 497 samples.', fontsize=6.4, fontweight='bold', ha='center', va='center', color='#222222')
for x, y, c, t, tx in [(9.3, 913.7, GREEN, 'Missense_Mutation', 15.7), (9.3, 922.3, RED, 'Nonsense_Mutation', 15.7),
                       (94.3, 913.7, ORANGE, 'Translation_Start_Site', 101), (94.3, 922.3, 'black', 'Multi_Hit', 101)]:
    ov.scatter([x], [y], s=7, marker='s', color=c, linewidths=0)
    ov.text(tx, y, t, fontsize=5.4, va='center', color='#333333')

# F
ax = px_axes(432.3, 680, 675, 901)
draw_matrix(ax, f_rows, 107, '#cdcdcd', 1, 0.0)
ax.vlines(np.arange(1, 107), 0, 20, color='white', lw=0.25, alpha=0.5)
draw_labels(ax, f_genes, f_pct, 107)
ax = px_axes(432.3, 620.7, 675, 675)
f_total = np.array(f_top_total)
f_nons = np.array(f_top_nons)
fx = np.arange(107) + 0.5
ax.bar(fx, f_total - f_nons, width=0.95, color=GREEN, lw=0)
ax.bar(fx, f_nons, bottom=f_total - f_nons, width=0.95, color=RED, lw=0)
ax.set_xlim(0, 107)
style_top(ax, 54)
ax = px_axes(696.7, 680, 764.3, 901)
draw_right(ax, f_right_m, f_right_n, f_right_h, 90)
ov.text(584, 609, 'Altered in 100 (93.46%) of 107 samples.', fontsize=6.4, fontweight='bold', ha='center', va='center', color='#222222')
for x, y, c, t, tx in [(406.7, 913, GREEN, 'Missense_Mutation', 413.3), (406.7, 921.7, RED, 'Nonsense_Mutation', 413.3),
                       (485.7, 913, 'black', 'Multi_Hit', 492.3)]:
    ov.scatter([x], [y], s=7, marker='s', color=c, linewidths=0)
    ov.text(tx, y, t, fontsize=5.4, va='center', color='#333333')

fig.savefig('out.png', dpi=100)
